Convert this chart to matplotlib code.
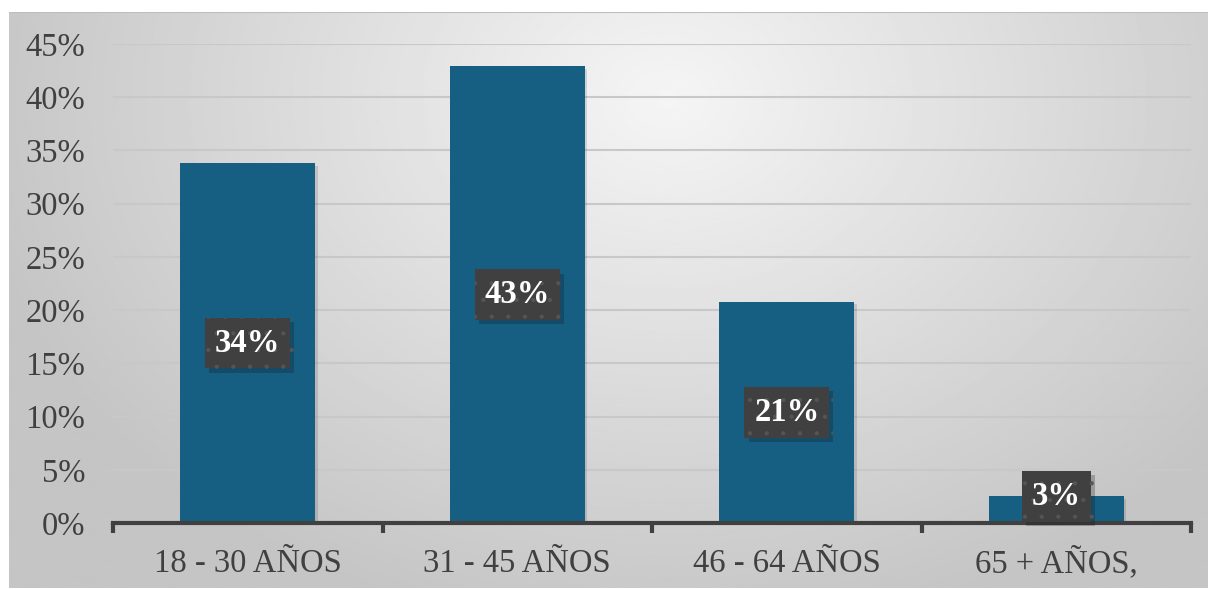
import numpy as np
import matplotlib.pyplot as plt
import matplotlib.patheffects as pe

categories = ["18 - 30 AÑOS", "31 - 45 AÑOS", "46 - 64 AÑOS", "65 + AÑOS,"]
values = [0.338, 0.429, 0.208, 0.025]
labels = ["34%", "43%", "21%", "3%"]

plt.rcParams['font.family'] = ['Liberation Serif', 'DejaVu Serif']
plt.rcParams['hatch.linewidth'] = 0.6

fig = plt.figure(figsize=(12.08, 5.89), dpi=100)

# radial grey background
bg = fig.add_axes([9/1208, 1/589, 1199/1208, 576/589])
bg.set_axis_off()
yy, xx = np.mgrid[0:1:300j, 0:1:600j]
d = np.sqrt(((xx - 0.55) * 1.6) ** 2 + (yy - 0.15) ** 2)
shade = np.clip(0.96 - 0.2 * d, 0.77, 0.96)
bg.imshow(shade, cmap='gray', vmin=0, vmax=1, aspect='auto', extent=[0, 1, 0, 1])
bg.plot([0, 1], [1, 1], color='#bdbdbd', lw=1.5)
bg.set_xlim(0, 1)
bg.set_ylim(0, 1)

ax = fig.add_axes([113/1208, 1 - 523/589, 1078/1208, (523 - 44)/589])
ax.patch.set_alpha(0)
x = np.arange(len(categories))
bars = ax.bar(x, values, width=0.5, color='#175f82', zorder=3)
for b in bars:
    b.set_path_effects([pe.SimplePatchShadow(offset=(2, -2), alpha=0.12, shadow_rgbFace='k'), pe.Normal()])

ax.set_xlim(-0.5, 3.5)
ax.set_ylim(0, 0.45)
ticks = np.arange(0, 0.451, 0.05)
ax.set_yticks(ticks)
ax.set_yticklabels([f"{int(round(t*100))}%" for t in ticks])
ax.yaxis.grid(True, color='#c8c8c8', lw=1.5, zorder=0)
ax.set_axisbelow(True)
for s in ['left', 'right', 'top']:
    ax.spines[s].set_visible(False)
ax.spines['bottom'].set_color('#404040')
ax.spines['bottom'].set_linewidth(3)
ax.spines['bottom'].set_zorder(4)

ax.set_xticks(x)
ax.set_xticklabels(categories, va='baseline')
ax.set_xticks(np.arange(-0.5, 4.0, 1.0), minor=True)
ax.tick_params(axis='x', which='major', length=0, pad=35.5, labelsize=23.5, labelcolor='#404040')
ax.tick_params(axis='x', which='minor', length=7, width=3, color='#404040', direction='out')
ax.tick_params(axis='y', length=0, pad=20, labelsize=23.5, labelcolor='#404040')

for xi, v, lab in zip(x, values, labels):
    t = ax.text(xi, max(v / 2, 0.025), lab, ha='center', va='center', fontsize=23.5,
                fontweight='bold', color='white', zorder=6,
                bbox=dict(boxstyle='square,pad=0.3', facecolor='#404040', edgecolor='#555555',
                          linewidth=0, hatch='.'))
    t.get_bbox_patch().set_path_effects([pe.SimplePatchShadow(offset=(3, -3), alpha=0.25), pe.Normal()])

fig.savefig('out.png', dpi=100)
